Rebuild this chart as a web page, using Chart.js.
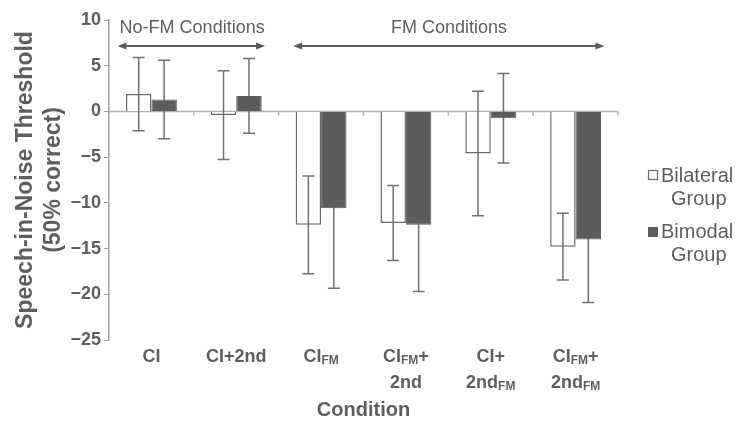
<!DOCTYPE html>
<html>
<head>
<meta charset="utf-8">
<script src="https://cdn.jsdelivr.net/npm/chart.js@4/dist/chart.umd.min.js"></script>
<style>
  html, body { margin: 0; padding: 0; background: #fff; }
</style>
</head>
<body>
<canvas id="myChart" width="741" height="429"></canvas>
<script>
'use strict'
/* 데이터 시작 */
// 조건 이름 ( | 는 줄바꿈, _FM 은 아래첨자)
const categories = ['CI', 'CI+2nd', 'CI_FM', 'CI_FM+|2nd', 'CI+|2nd_FM', 'CI_FM+|2nd_FM'];
// 양측 인공와우 그룹 평균, 표준편차
const bilateralMean = [1.9, -0.4, -12.4, -12.2, -4.6, -14.8];
const bilateralSD = [4.0, 4.85, 5.35, 4.1, 6.8, 3.65];
// 바이모달 그룹 평균, 표준편차
const bimodalMean = [1.3, 1.7, -10.6, -12.4, -0.75, -14.0];
const bimodalSD = [4.3, 4.1, 8.75, 7.3, 4.9, 6.9];
// y축 눈금
const yTicks = [10, 5, 0, -5, -10, -15, -20, -25];
/* 데이터 끝 */

const textGray = '#5e5e5e';
const font = 'Liberation Sans, Arial, sans-serif';

// 라벨 그리기 (FM 아래첨자 처리)
function drawLabelLine(ctx, line, cx, cy) {
  const parts = line.split(/(_FM)/).filter(p => p !== '');
  const big = 'bold 18px ' + font, small = 'bold 12px ' + font;
  let total = 0;
  parts.forEach(p => {
    ctx.font = p === '_FM' ? small : big;
    total += ctx.measureText(p === '_FM' ? 'FM' : p).width;
  });
  let px = cx - total / 2;
  parts.forEach(p => {
    const sub = p === '_FM';
    ctx.font = sub ? small : big;
    const t = sub ? 'FM' : p;
    ctx.fillText(t, px, sub ? cy + 4 : cy);
    px += ctx.measureText(t).width;
  });
}

// 양방향 화살표
function drawArrow(ctx, x1, x2, y) {
  ctx.beginPath();
  ctx.moveTo(x1 + 4, y);
  ctx.lineTo(x2 - 4, y);
  ctx.stroke();
  [[x1, 1], [x2, -1]].forEach(([x, d]) => {
    ctx.beginPath();
    ctx.moveTo(x, y);
    ctx.lineTo(x + d * 9, y - 3.5);
    ctx.lineTo(x + d * 9, y + 3.5);
    ctx.closePath();
    ctx.fill();
  });
}

// 오차 막대 그리기
function drawErrors(chart, di, mean, sd) {
  const { ctx, scales: { y } } = chart;
  ctx.save();
  ctx.strokeStyle = '#707070';
  ctx.lineWidth = 1.5;
  chart.getDatasetMeta(di).data.forEach((bar, i) => {
    const top = y.getPixelForValue(mean[i] + sd[i]);
    const bot = y.getPixelForValue(mean[i] - sd[i]);
    ctx.beginPath();
    ctx.moveTo(bar.x, top); ctx.lineTo(bar.x, bot);
    ctx.moveTo(bar.x - 6, top); ctx.lineTo(bar.x + 6, top);
    ctx.moveTo(bar.x - 6, bot); ctx.lineTo(bar.x + 6, bot);
    ctx.stroke();
  });
  ctx.restore();
}

const extraDraw = {
  id: 'extraDraw',
  beforeDatasetsDraw(chart) {
    const { ctx, scales: { x, y } } = chart;
    const y0 = y.getPixelForValue(0);
    ctx.save();
    ctx.strokeStyle = '#b0b0b0';
    ctx.lineWidth = 1.5;
    ctx.beginPath();
    ctx.moveTo(x.left, y0);
    ctx.lineTo(x.right, y0);
    for (let i = 1; i <= categories.length; i++) {
      const bx = x.getPixelForValue(i - 0.5);
      ctx.moveTo(bx, y0);
      ctx.lineTo(bx, y0 + 4);
    }
    ctx.stroke();
    ctx.restore();
    // 바이모달 오차막대는 막대 뒤에 (어두운 막대 안쪽은 가려짐)
    drawErrors(chart, 1, bimodalMean, bimodalSD);
  },
  afterDatasetsDraw(chart) {
    const { ctx, scales: { x } } = chart;
    drawErrors(chart, 0, bilateralMean, bilateralSD);
    ctx.save();

    // x축 라벨
    ctx.fillStyle = textGray;
    ctx.textBaseline = 'middle';
    ctx.textAlign = 'left';
    categories.forEach((c, i) => {
      const cx = x.getPixelForValue(i);
      c.split('|').forEach((line, li) => {
        drawLabelLine(ctx, line, cx, 357 + li * 26);
      });
    });
    ctx.textAlign = 'center';
    ctx.font = 'bold 20px ' + font;
    ctx.fillText('Condition', (x.left + x.right) / 2, 410);

    // 조건 구분 화살표
    ctx.font = '18px ' + font;
    ctx.fillText('No-FM Conditions', (x.getPixelForValue(-0.4) + x.getPixelForValue(1.36)) / 2, 28);
    ctx.fillText('FM Conditions', 449, 28);
    ctx.strokeStyle = '#5a5a5a';
    ctx.fillStyle = '#5a5a5a';
    ctx.lineWidth = 2;
    drawArrow(ctx, x.getPixelForValue(-0.4), x.getPixelForValue(1.34), 46);
    drawArrow(ctx, x.getPixelForValue(1.67), x.getPixelForValue(5.34), 46);

    // 범례
    ctx.lineWidth = 1.2;
    ctx.strokeStyle = '#6a6a6a';
    ctx.fillStyle = '#fff';
    ctx.fillRect(648.5, 170.5, 9, 9);
    ctx.strokeRect(648.5, 170.5, 9, 9);
    ctx.fillStyle = '#5c5c5c';
    ctx.fillRect(648, 227, 10, 10);
    ctx.fillStyle = textGray;
    ctx.font = '20px ' + font;
    ctx.textAlign = 'left';
    ctx.fillText('Bilateral', 661, 176);
    ctx.fillText('Group', 671, 199);
    ctx.fillText('Bimodal', 661, 232);
    ctx.fillText('Group', 671, 255);
    ctx.restore();
  }
};

const ctx = document.getElementById('myChart').getContext('2d');
new Chart(ctx, {
  type: 'bar',
  data: {
    labels: categories,
    datasets: [
      {
        label: 'Bilateral Group',
        data: bilateralMean,
        backgroundColor: '#ffffff',
        borderColor: '#6a6a6a',
        borderWidth: 1.5,
      },
      {
        label: 'Bimodal Group',
        data: bimodalMean,
        backgroundColor: '#5c5c5c',
        borderColor: '#5c5c5c',
        borderWidth: 1,
      },
    ],
  },
  options: {
    responsive: false, // 크기 고정
    animation: false,
    layout: { padding: { left: 0, top: 20, right: 123, bottom: 89 } },
    categoryPercentage: 0.6,
    barPercentage: 1.0,
    plugins: {
      legend: { display: false },
      tooltip: { enabled: false },
    },
    scales: {
      x: { display: false },
      y: {
        min: -25,
        max: 10,
        afterFit(scale) { scale.width = 109; },
        afterBuildTicks(scale) { scale.ticks = yTicks.map(v => ({ value: v })); },
        border: { color: '#a0a0a0', width: 1.5 },
        grid: { drawOnChartArea: false, tickLength: 5, color: '#a0a0a0' },
        ticks: {
          color: textGray,
          padding: 3,
          font: { family: font, size: 18, weight: 'bold' },
          callback: v => String(v).replace('-', '\u2212'),
        },
        title: {
          display: true,
          text: ['Speech-in-Noise Threshold', '(50% correct)'],
          color: textGray,
          font: { family: font, size: 23, weight: 'bold' },
          padding: { top: 12, bottom: 0 },
        },
      },
    },
  },
  plugins: [extraDraw],
});
</script>
</body>
</html>
